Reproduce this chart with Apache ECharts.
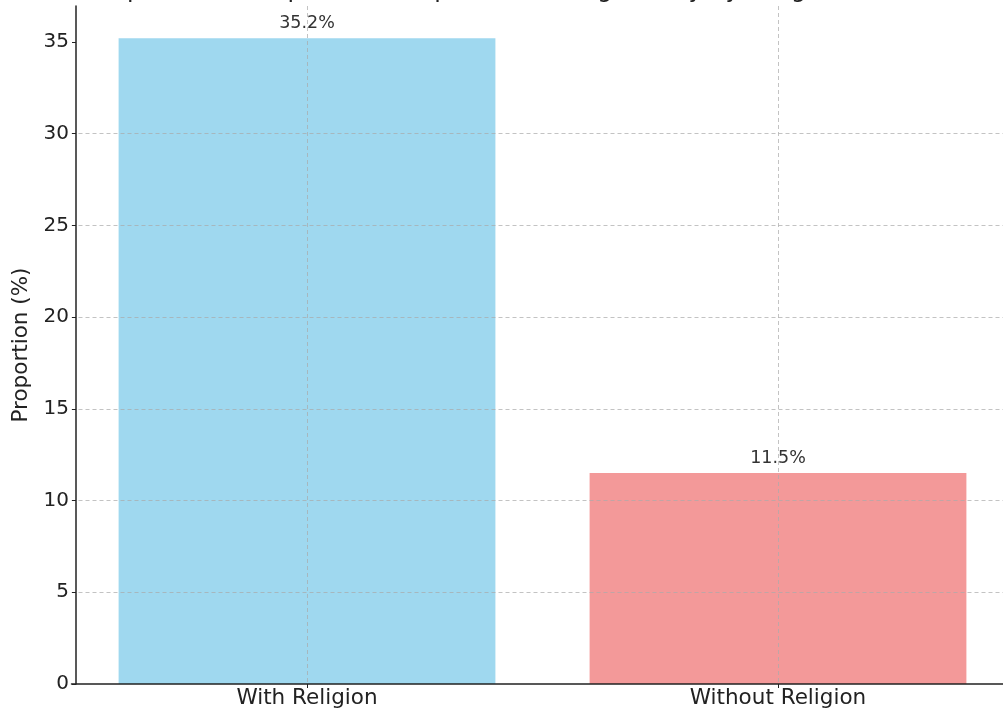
<!DOCTYPE html>
<html>
<head>
<meta charset="utf-8">
<script src="https://cdn.jsdelivr.net/npm/echarts@6/dist/echarts.min.js"></script>
<style>html,body{margin:0;padding:0;background:#fff}#c{width:1003px;height:716px}</style>
</head>
<body>
<div id="c"></div>
<script>
const categories = ['With Religion', 'Without Religion'];
const proportions = [35.2, 11.5];
const yTicks = [0, 5, 10, 15, 20, 25, 30, 35];
const titleText = 'Comparison of Depression Proportion Among Elderly by Religious Belief';

const barColors = ['rgba(135,206,235,0.8)', 'rgba(240,128,128,0.8)'];
const chart = echarts.init(document.getElementById('c'));
const font = 'DejaVu Sans';
chart.setOption({
  animation: false,
  backgroundColor: '#fff',
  title: {
    text: titleText, left: 'center', top: -26,
    textStyle: { fontFamily: font, fontSize: 24, fontWeight: 'normal', color: '#222' }
  },
  grid: { left: 71.5, width: 942, top: 6, bottom: 32, containLabel: false, outerBoundsMode: 'none' },
  xAxis: {
    type: 'category',
    data: categories,
    z: 5,
    axisLine: { lineStyle: { color: '#222', width: 1.5 } },
    axisTick: { show: true, alignWithLabel: true, length: 4, lineStyle: { color: '#222' } },
    axisLabel: { fontFamily: font, fontSize: 21.5, color: '#222', margin: 3 },
    splitLine: { show: true, alignWithLabel: true, lineStyle: { type: [4, 3], color: 'rgba(170,170,170,0.7)', width: 1 } }
  },
  yAxis: {
    type: 'value',
    min: 0, max: 36.96,
    offset: -4.5,
    z: 5,
    name: 'Proportion (%)',
    nameLocation: 'middle',
    nameGap: 41,
    nameTextStyle: { fontFamily: font, fontSize: 21.5, color: '#222' },
    axisLine: { show: true, lineStyle: { color: '#222', width: 1.5 } },
    axisTick: { show: true, length: 4, customValues: yTicks, lineStyle: { color: '#222' } },
    axisLabel: { fontFamily: font, fontSize: 20, color: '#222', margin: 7, customValues: yTicks },
    splitLine: { show: true, showMaxLine: false, showMinLine: false, lineStyle: { type: [4, 3], color: 'rgba(170,170,170,0.7)', width: 1 } }
  },
  series: [{
    type: 'bar',
    barWidth: '80%',
    data: proportions.map((v, i) => ({ value: v, itemStyle: { color: barColors[i] } })),
    label: {
      show: true, position: 'top', distance: 6,
      formatter: p => p.value.toFixed(1) + '%',
      fontFamily: font, fontSize: 17.5, color: '#333'
    }
  }]
});
</script>
</body>
</html>
